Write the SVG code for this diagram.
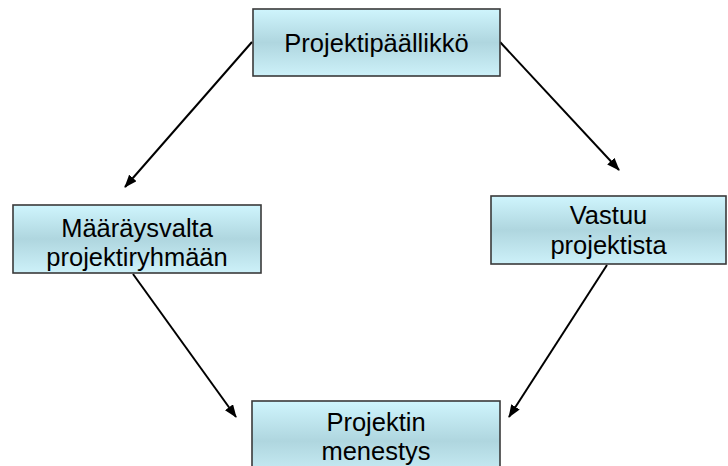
<svg xmlns="http://www.w3.org/2000/svg" width="728" height="466" viewBox="0 0 728 466">
  <defs>
    <linearGradient id="boxFill" x1="0" y1="0" x2="0" y2="1">
      <stop offset="0" stop-color="#cff5fd"/>
      <stop offset="0.5" stop-color="#afd6df"/>
      <stop offset="1" stop-color="#cdf1f9"/>
    </linearGradient>
    <marker id="arrow" viewBox="0 0 13 10" refX="12" refY="5" markerWidth="13" markerHeight="10" markerUnits="userSpaceOnUse" orient="auto">
      <path d="M0,0 L13,5 L0,10 Z" fill="#000"/>
    </marker>
  </defs>
  <style>
    .box { fill: url(#boxFill); stroke: #3a3a3a; stroke-width: 1.6; }
    .label { font-family: "Liberation Sans", Arial, sans-serif; font-size: 25.5px; fill: #000; text-anchor: middle; }
    .edge { stroke: #000; stroke-width: 2; fill: none; marker-end: url(#arrow); }
  </style>
  <rect width="728" height="466" fill="#fff"/>

  <g id="connectors">
    <line class="edge" x1="252" y1="42" x2="125" y2="187"/>
    <line class="edge" x1="500" y1="42" x2="619" y2="170"/>
    <line class="edge" x1="133" y1="274" x2="236" y2="417"/>
    <line class="edge" x1="607" y1="265" x2="509" y2="417"/>
  </g>

  <g id="projektipaallikko">
    <rect class="box" x="253" y="9" width="247" height="67"/>
    <text class="label" x="376.5" y="51.5">Projektipäällikkö</text>
  </g>

  <g id="maaraysvalta">
    <rect class="box" x="13" y="205" width="248" height="68"/>
    <text class="label" x="137" y="237">Määräysvalta</text>
    <text class="label" x="137" y="266">projektiryhmään</text>
  </g>

  <g id="vastuu">
    <rect class="box" x="491" y="196" width="235" height="68"/>
    <text class="label" x="608.5" y="224">Vastuu</text>
    <text class="label" x="608.5" y="254">projektista</text>
  </g>

  <g id="menestys">
    <rect class="box" x="252" y="401" width="248" height="80"/>
    <text class="label" x="376" y="431">Projektin</text>
    <text class="label" x="376" y="460">menestys</text>
  </g>
</svg>
